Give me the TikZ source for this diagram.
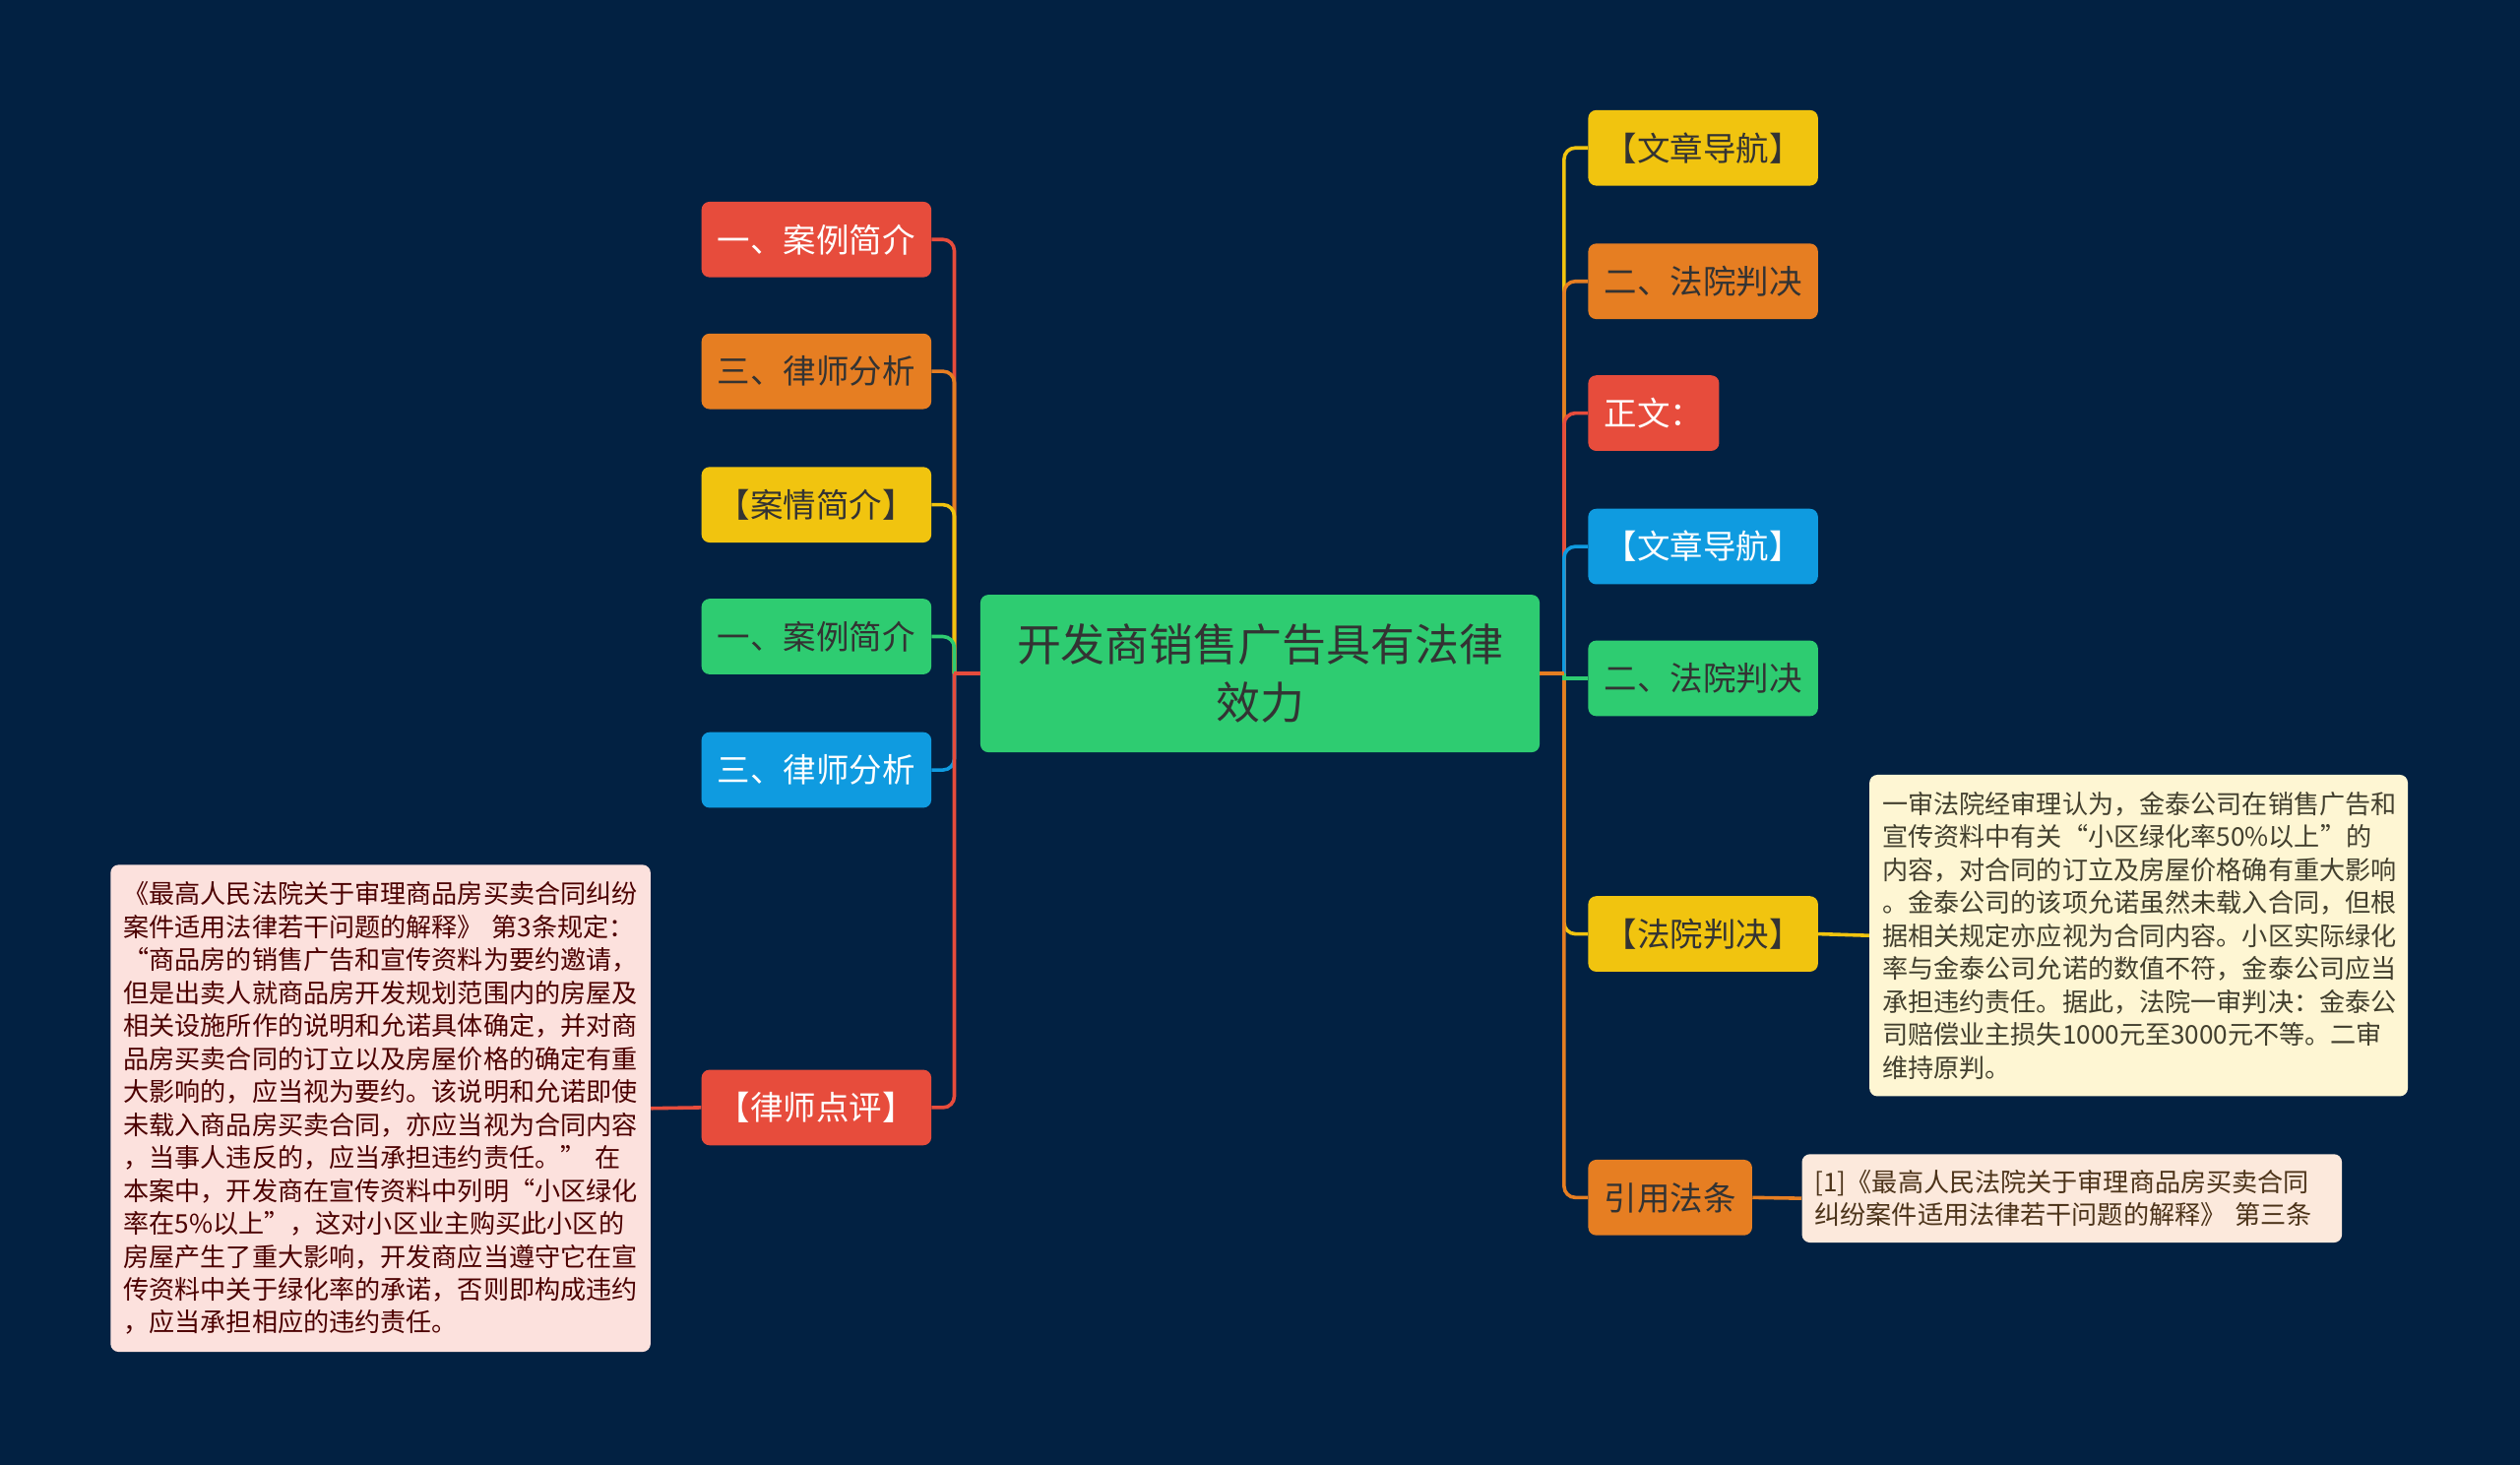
\documentclass[tikz,border=0pt]{standalone}
\usepackage{fontspec}
\setmainfont{Noto Sans CJK SC}
\usepackage{xcolor}
\usepackage{tikz}
\usetikzlibrary{positioning}
\definecolor{bgnavy}{HTML}{022142}
\definecolor{mapred}{HTML}{E74C3C}
\definecolor{maporange}{HTML}{E67E22}
\definecolor{mapyellow}{HTML}{F1C40F}
\definecolor{mapgreen}{HTML}{2ECC71}
\definecolor{mapblue}{HTML}{0F9BE0}
\definecolor{darktext}{HTML}{333333}
\definecolor{notepink}{HTML}{FCE1DD}
\definecolor{notecream}{HTML}{FEF6D3}
\definecolor{notepeach}{HTML}{FCE9DC}
\tikzstyle{root} = [rectangle, rounded corners=5pt, minimum width=348pt, minimum height=98pt, align=center, fill=mapgreen, text=darktext, font=\fontsize{27.5pt}{36pt}\selectfont]
\tikzstyle{topic} = [rectangle, rounded corners=5pt, minimum height=47pt, inner xsep=10pt, font=\fontsize{20.5pt}{24pt}\selectfont]
\tikzstyle{redtopic} = [topic, fill=mapred, text=white]
\tikzstyle{orangetopic} = [topic, fill=maporange, text=darktext]
\tikzstyle{yellowtopic} = [topic, fill=mapyellow, text=darktext]
\tikzstyle{greentopic} = [topic, fill=mapgreen, text=darktext]
\tikzstyle{bluetopic} = [topic, fill=mapblue, text=white]
\tikzstyle{note} = [rectangle, rounded corners=5pt, inner xsep=8pt, inner ysep=0pt, align=left, font=\fontsize{16pt}{20.5pt}\selectfont]
\tikzstyle{branch} = [line width=2.2pt, rounded corners=7pt]
\tikzstyle{link} = [line width=2.2pt]

\begin{document}
\begin{tikzpicture}[x=1pt, y=-1pt]
\useasboundingbox (0,0) rectangle (1568,911);
\fill [bgnavy] (-3,-3) rectangle (1571,914);

\node (root) [root] at (784,419) {开发商销售广告具有法律\\效力};

\node (l1) [redtopic] at (508,149) {一、案例简介};
\node (l2) [orangetopic] at (508,231) {三、律师分析};
\node (l3) [yellowtopic] at (508,314) {【案情简介】};
\node (l4) [greentopic] at (508,396) {一、案例简介};
\node (l5) [bluetopic] at (508,479) {三、律师分析};
\node (l6) [redtopic] at (508,689) {【律师点评】};

\node (r1) [yellowtopic, anchor=west] at (988,92) {【文章导航】};
\node (r2) [orangetopic, anchor=west] at (988,175) {二、法院判决};
\node (r3) [redtopic, anchor=west] at (988,257) {正文：};
\node (r4) [bluetopic, anchor=west] at (988,340) {【文章导航】};
\node (r5) [greentopic, anchor=west] at (988,422) {二、法院判决};
\node (r6) [yellowtopic, anchor=west] at (988,581) {【法院判决】};
\node (r7) [orangetopic, anchor=west] at (988,745) {引用法条};

\node (lnote) [note, fill=notepink, text=red!30!black, text width=320pt, minimum height=303pt, anchor=east] at (405,689.5) {《最高人民法院关于审理商品房买卖合同纠纷\\案件适用法律若干问题的解释》 第3条规定：\\“商品房的销售广告和宣传资料为要约邀请，\\但是出卖人就商品房开发规划范围内的房屋及\\相关设施所作的说明和允诺具体确定，并对商\\品房买卖合同的订立以及房屋价格的确定有重\\大影响的，应当视为要约。该说明和允诺即使\\未载入商品房买卖合同，亦应当视为合同内容\\，当事人违反的，应当承担违约责任。” 在\\本案中，开发商在宣传资料中列明“小区绿化\\率在5\%以上”，这对小区业主购买此小区的\\房屋产生了重大影响，开发商应当遵守它在宣\\传资料中关于绿化率的承诺，否则即构成违约\\，应当承担相应的违约责任。};
\node (rnote) [note, fill=notecream, text=olive!30!black, text width=319pt, minimum height=200pt, anchor=west] at (1163,582) {一审法院经审理认为，金泰公司在销售广告和\\宣传资料中有关“小区绿化率50\%以上”的\\内容，对合同的订立及房屋价格确有重大影响\\。金泰公司的该项允诺虽然未载入合同，但根\\据相关规定亦应视为合同内容。小区实际绿化\\率与金泰公司允诺的数值不符，金泰公司应当\\承担违约责任。据此，法院一审判决：金泰公\\司赔偿业主损失1000元至3000元不等。二审\\维持原判。};
\node (cite) [note, fill=notepeach, text=brown!40!black, text width=320pt, minimum height=55pt, anchor=west] at (1121,745.5) {[1]《最高人民法院关于审理商品房买卖合同\\纠纷案件适用法律若干问题的解释》 第三条};

\coordinate (lt) at ([xshift=-16pt]root.west);
\coordinate (rt) at ([xshift=15pt]root.east);

\draw [branch, mapblue] (lt) |- (l5.east);
\draw [branch, mapred] (lt) |- (l6.east);
\draw [branch, mapred] (lt) |- (l1.east);
\draw [branch, maporange] (lt) |- (l2.east);
\draw [branch, mapyellow] (lt) |- (l3.east);
\draw [branch, mapgreen] (lt) |- (l4.east);
\draw [link, mapred] (root.west) -- (lt);

\draw [branch, mapyellow] (rt) |- (r1.west);
\draw [branch, maporange] (rt) |- (r2.west);
\draw [branch, mapred] (rt) |- (r3.west);
\draw [branch, mapblue] (rt) |- (r4.west);
\draw [branch, mapyellow] (rt) |- (r6.west);
\draw [branch, maporange] (rt) |- (r7.west);
\draw [link, mapgreen] (rt) |- (r5.west);
\draw [link, maporange] (root.east) -- (rt);

\draw [link, mapred] (l6.west) -- (lnote.east);
\draw [link, mapyellow] (r6.east) -- (rnote.west);
\draw [link, maporange] (r7.east) -- (cite.west);
\end{tikzpicture}
\end{document}
